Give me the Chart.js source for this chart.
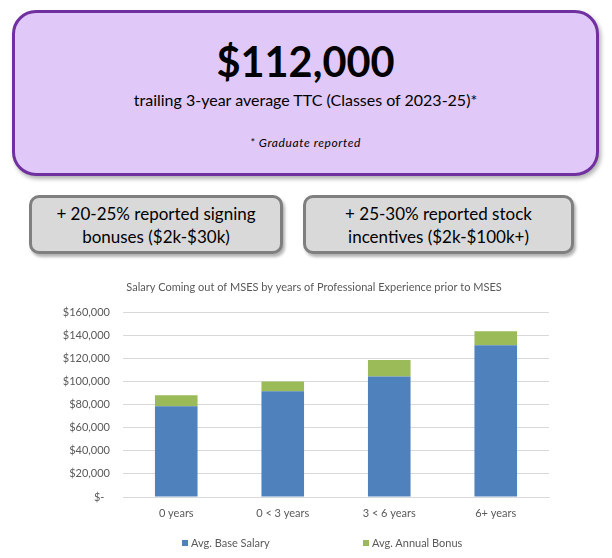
<!DOCTYPE html>
<html>
<head>
<meta charset="utf-8">
<script src="https://cdn.jsdelivr.net/npm/chart.js@4/dist/chart.umd.min.js"></script>
<style>
  html, body { margin: 0; padding: 0; background: #fff; }
  body { width: 612px; height: 558px; position: relative; overflow: hidden; font-family: Lato, "Open Sans", sans-serif; color: #000; }
  .hero {
    position: absolute; left: 12px; top: 10px; width: 587px; height: 166px;
    box-sizing: border-box; border: 3px solid #7030A0; border-radius: 24px;
    background: #E0C8F8; box-shadow: 2px 3px 4px rgba(0,0,0,0.3);
  }
  .line { position: absolute; left: 0; width: 100%; text-align: center; white-space: nowrap; }
  .big { top: 23px; font-size: 41.5px; font-weight: 700; line-height: 50px; }
  .sub { top: 77px; font-size: 16px; line-height: 20px; }
  .note { top: 123px; font-size: 12px; font-style: italic; line-height: 14px; letter-spacing: 0.6px; }
  .chip {
    position: absolute; top: 195px; height: 59px; box-sizing: border-box;
    border: 3px solid #7F7F7F; border-radius: 10px; background: #D9D9D9;
    box-shadow: 2px 3px 3px rgba(0,0,0,0.3);
    text-align: center; font-size: 17px; line-height: 23px; padding-top: 4px;
  }
  #chartBox { position: absolute; left: 0; top: 270px; width: 612px; height: 288px; }
  .legend { position: absolute; top: 536px; font-size: 11px; color: #595959; line-height: 14px; white-space: nowrap; }
  .legend i { display: inline-block; width: 6px; height: 6px; margin-right: 3px; vertical-align: 1px; }
</style>
</head>
<body>
<div class="hero">
  <div class="line big">$112,000</div>
  <div class="line sub">trailing 3-year average TTC (Classes of 2023-25)*</div>
  <div class="line note">* Graduate reported</div>
</div>
<div class="chip" style="left:29px;width:254px;">+ 20-25% reported signing<br>bonuses ($2k-$30k)</div>
<div class="chip" style="left:303px;width:271px;">+ 25-30% reported stock<br>incentives ($2k-$100k+)</div>
<div id="chartBox"><canvas id="salaryChart"></canvas></div>
<div class="legend" id="legBase" style="left:182px;"></div>
<div class="legend" id="legBonus" style="left:363px;"></div>
<script>
const categories = ['0 years', '0 < 3 years', '3 < 6 years', '6+ years'];
const baseSalary = [78500, 91500, 104300, 131400];
const annualBonus = [9500, 8500, 14300, 12000];
const seriesNames = ['Avg. Base Salary', 'Avg. Annual Bonus'];
const seriesColors = ['#4F81BD', '#9BBB59'];
const yMax = 160000;
const yStep = 20000;

function money(v) {
    if (v === 0) return '$-  ';
    return '$' + v.toLocaleString('en-US');
}

// the title is centred over the whole chart, so the y axis box gets widened
// after layout instead of through padding, otherwise its labels are clipped
const widenYAxis = {
    id: 'widenYAxis',
    afterLayout(chart) {
        chart.scales.y.left -= 45;
    }
};

document.addEventListener('DOMContentLoaded', () => {
    const ctx = document.getElementById('salaryChart').getContext('2d');

    new Chart(ctx, {
        type: 'bar',
        data: {
            labels: categories,
            datasets: [{
                label: seriesNames[0],
                data: baseSalary,
                backgroundColor: seriesColors[0]
            }, {
                label: seriesNames[1],
                data: annualBonus,
                backgroundColor: seriesColors[1]
            }]
        },
        options: {
            responsive: true,
            maintainAspectRatio: false,
            animation: false,
            categoryPercentage: 1,
            barPercentage: 0.4,
            layout: { padding: { left: 79, right: 63, top: 0, bottom: 31 } },
            plugins: {
                legend: { display: false },
                tooltip: { enabled: false },
                title: {
                    display: true,
                    text: 'Salary Coming out of MSES by years of Professional Experience prior to MSES',
                    color: '#595959',
                    font: { family: 'Lato', size: 11, weight: 'normal' },
                    padding: { top: 11, bottom: 18 }
                }
            },
            scales: {
                x: {
                    stacked: true,
                    grid: { display: false },
                    border: { color: '#D9D9D9' },
                    ticks: { color: '#595959', font: { family: 'Lato', size: 11 }, padding: 2 },
                    afterFit: (scale) => { scale.height = 30; }
                },
                y: {
                    stacked: true,
                    min: 0,
                    max: yMax,
                    border: { display: false },
                    grid: { color: '#D9D9D9', drawTicks: false },
                    ticks: {
                        stepSize: yStep,
                        color: '#595959',
                        font: { family: 'Lato', size: 11 },
                        padding: 13,
                        callback: (v) => money(v)
                    },
                    afterFit: (scale) => { scale.width = 44; }
                }
            }
        },
        plugins: [widenYAxis]
    });

    document.getElementById('legBase').innerHTML = '<i style="background:' + seriesColors[0] + '"></i>' + seriesNames[0];
    document.getElementById('legBonus').innerHTML = '<i style="background:' + seriesColors[1] + '"></i>' + seriesNames[1];
});
</script>
</body>
</html>
